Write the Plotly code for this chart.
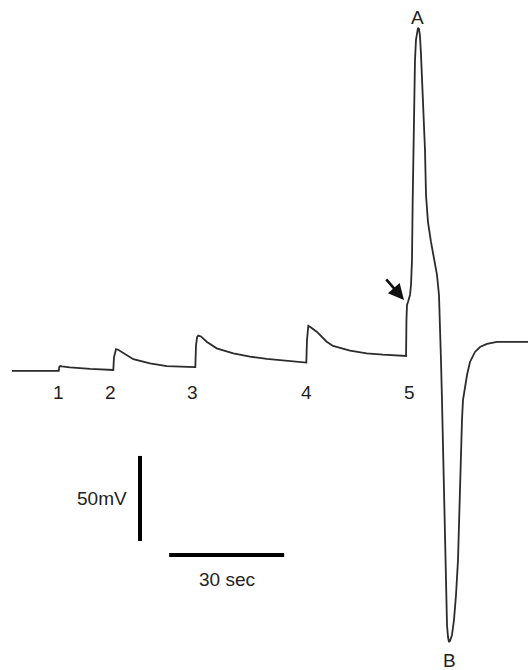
import plotly.graph_objects as go

# Membrane potential trace: time (s) and relative voltage (mV)
time_s = [
    0.0, 12.2, 12.34, 12.6, 13.0, 15.1, 20.4, 26.1,
    26.43, 26.6, 26.9, 27.13, 27.6, 29.04, 31.65, 36.0, 40.36, 47.74,
    47.82, 48.0, 48.3, 48.6, 49.3, 50.79, 53.40, 57.73, 62.09, 66.44, 70.78, 76.70,
    76.78, 76.95, 77.1, 77.30, 78.0, 79.49, 82.10, 83.74, 88.17, 92.53, 96.78, 102.78,
    102.8, 102.9, 103.04, 103.30, 103.57, 103.83, 104.09, 104.35, 104.53, 104.70,
    104.87, 105.13, 105.39, 105.65, 105.91, 106.17, 106.43, 106.70, 106.96, 107.22,
    107.48, 107.74, 108.0, 108.52, 109.30, 110.09, 110.87, 111.39, 111.65, 111.91,
    112.17, 112.43, 112.70, 112.96, 113.22, 113.48, 113.74, 114.0, 114.26, 114.78,
    115.30, 115.83, 116.35, 116.61, 116.87, 117.13, 117.39, 117.65, 118.17, 118.70,
    119.48, 120.78, 122.09, 123.91, 126.52, 134.61,
]
voltage_mv = [
    0.0, 0.0, 2.4, 2.9, 2.7, 2.1, 1.2, 0.6,
    0.6, 8.0, 11.8, 12.8, 12.6, 10.4, 6.9, 4.5, 2.9, 2.2,
    2.2, 15.0, 20.0, 20.8, 20.3, 17.2, 13.3, 10.4, 8.4, 7.1, 6.1, 4.9,
    4.9, 18.0, 24.5, 26.6, 25.6, 23.1, 17.2, 14.7, 12.0, 10.4, 9.6, 8.8,
    8.8, 30.0, 38.8, 40.6, 42.4, 44.7, 50.6, 65.3, 100.6, 130.0,
    159.4, 182.9, 194.7, 200.0, 201.8, 201.2, 197.1, 185.9, 171.2, 159.4,
    147.6, 130.0, 103.5, 87.6, 75.9, 66.5, 56.5, 44.7, 30.0, 6.5,
    -17.1, -46.5, -81.8, -111.2, -134.7, -149.4, -156.5, -159.4, -158.8, -155.3,
    -146.5, -131.8, -111.2, -87.6, -64.1, -46.5, -28.8, -17.1, -8.2, -2.4,
    5.3, 11.2, 14.1, 15.9, 17.1, 17.1,
]

# Stimulus labels
stim_labels = ["1", "2", "3", "4", "5"]
stim_t = [12.0, 25.8, 47.2, 76.7, 103.6]
stim_v = -12.9

# Peak / trough labels
peak_labels = ["A", "B"]
peak_t = [105.9, 114.0]
peak_v = [208.0, -170.6]

# Scale bars
vbar_t = [33.4, 33.4]
vbar_v = [-50.0, -100.0]
hbar_t = [41.0, 71.0]
hbar_v = [-108.2, -108.2]
vbar_label = "50mV"
hbar_label = "30 sec"

# Arrow (tail -> head)
arrow_tail = (97.3, 54.7)
arrow_head = (102.26, 41.8)

ink = "#2b2b2b"
font_family = "Liberation Sans, Arial, sans-serif"
fs = 19

fig = go.Figure()
fig.add_trace(go.Scatter(
    x=time_s, y=voltage_mv, mode="lines",
    line=dict(color=ink, width=1.8),
    hoverinfo="skip", showlegend=False,
))

# scale bars
fig.add_shape(type="line", xref="x", yref="y",
              x0=vbar_t[0], x1=vbar_t[1], y0=vbar_v[0], y1=vbar_v[1],
              line=dict(color="black", width=4))
fig.add_shape(type="line", xref="x", yref="y",
              x0=hbar_t[0], x1=hbar_t[1], y0=hbar_v[0], y1=hbar_v[1],
              line=dict(color="black", width=4))

annotations = []
for lab, t in zip(stim_labels, stim_t):
    annotations.append(dict(x=t, y=stim_v, text=lab, showarrow=False,
                            font=dict(size=fs, color="#222", family=font_family)))
for lab, t, v in zip(peak_labels, peak_t, peak_v):
    annotations.append(dict(x=t, y=v, text=lab, showarrow=False,
                            font=dict(size=fs, color="#222", family=font_family)))
annotations.append(dict(x=vbar_t[0] - 2.9, y=(vbar_v[0] + vbar_v[1]) / 2,
                        text=vbar_label, showarrow=False, xanchor="right",
                        font=dict(size=fs, color="#222", family=font_family)))
annotations.append(dict(x=(hbar_t[0] + hbar_t[1]) / 2, y=hbar_v[0] - 14.2,
                        text=hbar_label, showarrow=False,
                        font=dict(size=fs, color="#222", family=font_family)))
annotations.append(dict(x=arrow_head[0], y=arrow_head[1],
                        ax=arrow_tail[0], ay=arrow_tail[1],
                        axref="x", ayref="y", xref="x", yref="y",
                        text="", showarrow=True, arrowhead=2, arrowsize=1.2,
                        arrowwidth=2.6, arrowcolor="#111", standoff=0))

fig.update_layout(
    width=528, height=670,
    margin=dict(l=0, r=0, t=0, b=0),
    paper_bgcolor="white", plot_bgcolor="white",
    xaxis=dict(range=[-3.13, 134.61], visible=False, fixedrange=True),
    yaxis=dict(range=[-175.9, 218.2], visible=False, fixedrange=True),
    annotations=annotations,
    showlegend=False,
)

fig.write_html("out.html")
